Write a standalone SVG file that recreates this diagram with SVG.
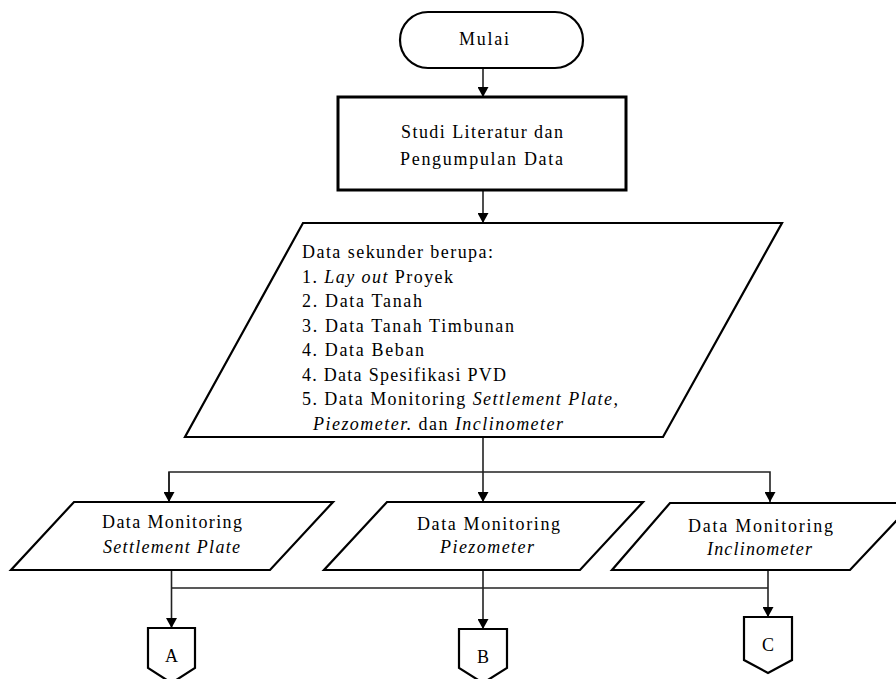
<svg xmlns="http://www.w3.org/2000/svg" width="896" height="679" viewBox="0 0 896 679" font-family="'Liberation Serif', 'Times New Roman', serif">
<style>
.shape{fill:#fff;stroke:#000;stroke-width:2.2;stroke-linejoin:miter}
.thick{stroke-width:3}
.conn{fill:none;stroke:#222;stroke-width:1.6}
text{font-family:'Liberation Serif','Times New Roman',serif;font-size:18px;fill:#000}
.it{font-style:italic}
.mid{text-anchor:middle}
</style>
<defs>
<marker id="ah" markerWidth="10" markerHeight="11" refX="10" refY="5.5" orient="auto" markerUnits="userSpaceOnUse">
<path d="M0,0 L10,5.5 L0,11 z" fill="#000"/>
</marker>
</defs>
<g id="connectors">
<line class="conn" x1="483" y1="68" x2="483" y2="97" marker-end="url(#ah)"/>
<line class="conn" x1="483" y1="190" x2="483" y2="223" marker-end="url(#ah)"/>
<line class="conn" x1="483" y1="437" x2="483" y2="502" marker-end="url(#ah)"/>
<polyline class="conn" points="169,502 169,472 770,472 770,502" marker-end="url(#ah)"/>
<line class="conn" x1="169" y1="472" x2="169" y2="502" marker-end="url(#ah)"/>
<line class="conn" x1="171.5" y1="570" x2="171.5" y2="628" marker-end="url(#ah)"/>
<line class="conn" x1="171.5" y1="588" x2="768" y2="588"/>
<line class="conn" x1="483" y1="570" x2="483" y2="629" marker-end="url(#ah)"/>
<line class="conn" x1="768" y1="570" x2="768" y2="617" marker-end="url(#ah)"/>
</g>
<g id="start">
<rect class="shape" x="400" y="12" width="183" height="56" rx="28" ry="28"/>
<text x="484" y="45" class="mid" textLength="50">Mulai</text>
</g>
<g id="studi">
<rect class="shape thick" x="338" y="97" width="288" height="93"/>
<text x="401" y="138" textLength="162">Studi Literatur dan</text>
<text x="400" y="165" textLength="163">Pengumpulan Data</text>
</g>
<g id="data-sekunder">
<polygon class="shape" points="303,223 782,223 663,437 185,437"/>
<text x="302" y="258" textLength="191">Data sekunder berupa:</text>
<text x="302" y="282.5" textLength="151">1. <tspan class="it">Lay out</tspan> Proyek</text>
<text x="302" y="307" textLength="120">2. Data Tanah</text>
<text x="302" y="331.5" textLength="212">3. Data Tanah Timbunan</text>
<text x="302" y="356" textLength="122">4. Data Beban</text>
<text x="302" y="380.5" textLength="204">4. Data Spesifikasi PVD</text>
<text x="302" y="405" textLength="316">5. Data Monitoring  <tspan class="it">Settlement Plate,</tspan></text>
<text x="313" y="429.5" textLength="250"><tspan class="it">Piezometer.</tspan>  dan <tspan class="it">Inclinometer</tspan></text>
</g>
<g id="settlement">
<polygon class="shape" points="74,502 333,502 270,570 11,570"/>
<text x="102" y="528" textLength="140">Data Monitoring</text>
<text x="103" y="553" class="it" textLength="137">Settlement Plate</text>
</g>
<g id="piezometer">
<polygon class="shape" points="387,502 643,502 580,570 324,570"/>
<text x="417" y="530" textLength="143">Data Monitoring</text>
<text x="440" y="553" class="it" textLength="94">Piezometer</text>
</g>
<g id="inclinometer">
<polygon class="shape" points="670,503 913,503 850,570 612,570"/>
<text x="688" y="532" textLength="145">Data Monitoring</text>
<text x="707" y="555" class="it" textLength="105">Inclinometer</text>
</g>
<g id="conn-A">
<path class="shape" d="M148,628 H195 V668 L171.5,683 L148,668 Z"/>
<text x="171.5" y="662" class="mid">A</text>
</g>
<g id="conn-B">
<path class="shape" d="M459,629 H507 V668 L483,683 L459,668 Z"/>
<text x="483" y="663" class="mid">B</text>
</g>
<g id="conn-C">
<path class="shape" d="M744,617 H792 V660 L768,673 L744,660 Z"/>
<text x="768" y="651" class="mid">C</text>
</g>
</svg>
